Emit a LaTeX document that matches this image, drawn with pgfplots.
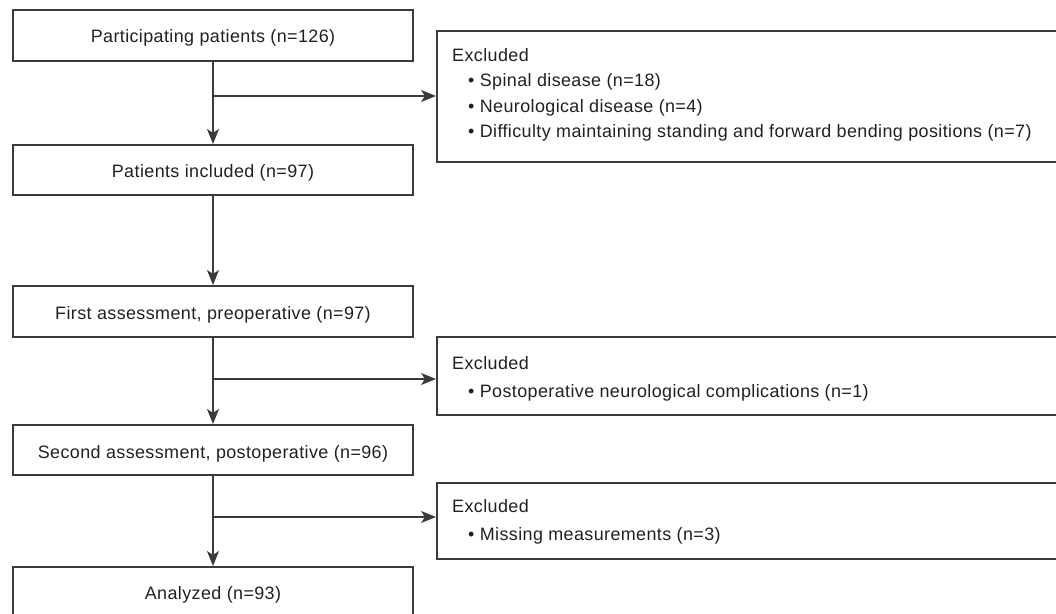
\documentclass[border=0pt]{standalone}
\usepackage{pgfplots}
\pgfplotsset{compat=1.18}
\usepackage{fontspec}
\setmainfont{Liberation Sans}[LetterSpace=2.2]
\usetikzlibrary{arrows.meta}
\definecolor{linecol}{HTML}{3A3A3A}
\definecolor{txtcol}{HTML}{231F20}
\tikzset{ft/.style={font=\fontsize{18}{21}\selectfont, text=txtcol, inner sep=0pt},
  arr/.style={draw=linecol, line width=1.1bp, -{Stealth[length=15bp,width=12bp,inset=4bp]}}}
\begin{document}
\begin{tikzpicture}
\begin{axis}[
  width=1056bp, height=614bp, scale only axis,
  xmin=0, xmax=1056, ymin=0, ymax=614,
  y dir=reverse,
  axis line style={draw=none},
  ticks=none,
  clip=true,
]
% main boxes
\addplot[draw=linecol, line width=1.1bp, line cap=rect, mark=none] coordinates {(13,10) (413,10) (413,61) (13,61) (13,10)};
\addplot[draw=linecol, line width=1.1bp, line cap=rect, mark=none] coordinates {(13,145) (413,145) (413,195) (13,195) (13,145)};
\addplot[draw=linecol, line width=1.1bp, line cap=rect, mark=none] coordinates {(13,286) (413,286) (413,337) (13,337) (13,286)};
\addplot[draw=linecol, line width=1.1bp, line cap=rect, mark=none] coordinates {(13,425) (413,425) (413,475) (13,475) (13,425)};
\addplot[draw=linecol, line width=1.1bp, line cap=rect, mark=none] coordinates {(13,567) (413,567) (413,640) (13,640) (13,567)};
% excluded boxes
\addplot[draw=linecol, line width=1.1bp, line cap=rect, mark=none] coordinates {(437,31) (1080,31) (1080,162) (437,162) (437,31)};
\addplot[draw=linecol, line width=1.1bp, line cap=rect, mark=none] coordinates {(437,337) (1080,337) (1080,415) (437,415) (437,337)};
\addplot[draw=linecol, line width=1.1bp, line cap=rect, mark=none] coordinates {(437,483) (1080,483) (1080,559) (437,559) (437,483)};
% vertical arrows
\addplot[arr, mark=none] coordinates {(213,61) (213,144)};
\addplot[arr, mark=none] coordinates {(213,195) (213,285)};
\addplot[arr, mark=none] coordinates {(213,337) (213,424)};
\addplot[arr, mark=none] coordinates {(213,475) (213,566)};
% horizontal arrows
\addplot[arr, mark=none] coordinates {(213,96) (436,96)};
\addplot[arr, mark=none] coordinates {(213,379) (436,379)};
\addplot[arr, mark=none] coordinates {(213,517) (436,517)};
% main box texts
\node[ft, anchor=base] at (213,43) {Participating patients (n=126)};
\node[ft, anchor=base] at (213,177) {Patients included (n=97)};
\node[ft, anchor=base] at (213,319) {First assessment, preoperative (n=97)};
\node[ft, anchor=base] at (213,458) {Second assessment, postoperative (n=96)};
\node[ft, anchor=base] at (213,599) {Analyzed (n=93)};
% excluded texts
\node[ft, anchor=base west] at (452,62) {Excluded};
\node[ft, anchor=base west] at (468,87) {• Spinal disease (n=18)};
\node[ft, anchor=base west] at (468,112) {• Neurological disease (n=4)};
\node[ft, anchor=base west] at (468,137) {• Difficulty maintaining standing and forward bending positions (n=7)};
\node[ft, anchor=base west] at (452,369) {Excluded};
\node[ft, anchor=base west] at (468,397) {• Postoperative neurological complications (n=1)};
\node[ft, anchor=base west] at (452,512) {Excluded};
\node[ft, anchor=base west] at (468,540) {• Missing measurements (n=3)};
\end{axis}
\end{tikzpicture}
\end{document}
